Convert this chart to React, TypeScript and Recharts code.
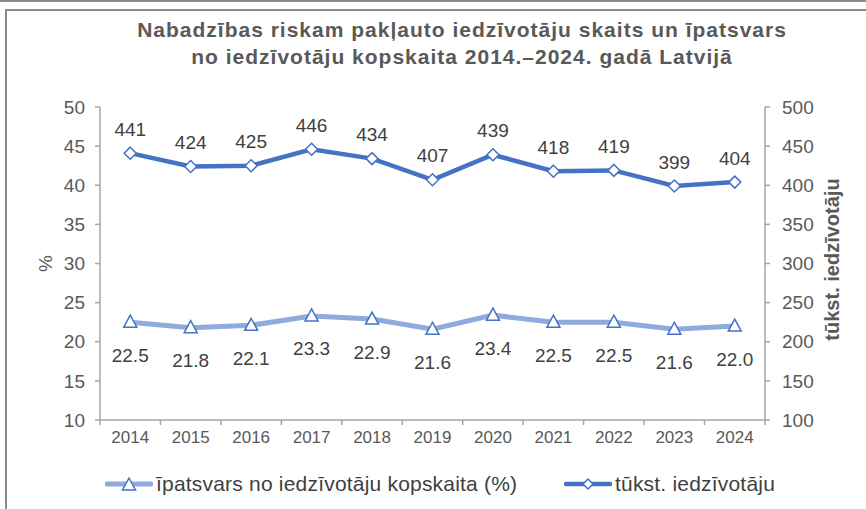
import * as React from "react";
import { LineChart, Line, XAxis, YAxis, Legend, LabelList } from "recharts";

// years shown on the x axis
const years = ["2014", "2015", "2016", "2017", "2018", "2019", "2020", "2021", "2022", "2023", "2024"];
// share of population at risk of poverty (%)
const sharePct = [22.5, 21.8, 22.1, 23.3, 22.9, 21.6, 23.4, 22.5, 22.5, 21.6, 22.0];
// number of people, thousands
const thousands = [441, 424, 425, 446, 434, 407, 439, 418, 419, 399, 404];

const leftTicks = [10, 15, 20, 25, 30, 35, 40, 45, 50];
const rightTicks = [100, 150, 200, 250, 300, 350, 400, 450, 500];

const shareName = "īpatsvars no iedzīvotāju kopskaita (%)";
const countName = "tūkst. iedzīvotāju";

const data = years.map((y, i) => ({ i, year: y, share: sharePct[i], count: thousands[i] }));
// category index ticks plus the half steps between them (Excel puts tick marks between categories)
const xTicks: number[] = [];
for (let k = -0.5; k <= years.length - 0.5; k += 0.5) xTicks.push(k);

const FONT = "'Liberation Sans', Arial, sans-serif";
const DARK = "#3f3f3f";
const GREY = "#595959";
const AXIS = "#a6a6a6";
const BLUE = "#4472C4";
const LIGHT = "#8FAADC";

const diamond = (cx: number, cy: number, r = 6) =>
  `M${cx},${cy - r} L${cx + r},${cy} L${cx},${cy + r} L${cx - r},${cy} Z`;
const triangle = (cx: number, cy: number) =>
  `M${cx},${cy - 7} L${cx + 6.5},${cy + 5} L${cx - 6.5},${cy + 5} Z`;

const DiamondDot = (p: any) => {
  if (p.cx == null) return <g key={p.index} />;
  return <path key={p.index} d={diamond(p.cx, p.cy)} fill="#fff" stroke={BLUE} strokeWidth={1.5} />;
};
const TriangleDot = (p: any) => {
  if (p.cx == null) return <g key={p.index} />;
  return <path key={p.index} d={triangle(p.cx, p.cy)} fill="#fff" stroke={BLUE} strokeWidth={1.5} />;
};

const XTick = (p: any) => {
  const v = p.payload.value;
  if (Number.isInteger(v)) {
    return (
      <text x={p.x} y={p.y + 17} textAnchor="middle" dominantBaseline="central" fill={GREY} fontSize={17} fontFamily={FONT}>
        {years[v]}
      </text>
    );
  }
  return <line x1={p.x} x2={p.x} y1={p.y} y2={p.y + 5} stroke={AXIS} strokeWidth={1.5} />;
};

const TopLabel = (p: any) => (
  <text x={p.x} y={p.y - 24} textAnchor="middle" dominantBaseline="central" fill={DARK} fontSize={19} fontFamily={FONT}>
    {p.value}
  </text>
);
const BottomLabel = (p: any) => (
  <text x={p.x} y={p.y + 33} textAnchor="middle" dominantBaseline="central" fill={DARK} fontSize={19} fontFamily={FONT}>
    {Number(p.value).toFixed(1)}
  </text>
);

const LegendBox = () => (
  <div style={{ position: "relative", width: 866, height: 26, fontFamily: FONT, fontSize: 21, letterSpacing: 0.2, color: DARK }}>
    <div style={{ position: "absolute", left: 105, top: 0, display: "flex", alignItems: "center", height: 26 }}>
      <svg width={48} height={26}>
        <line x1={2} x2={46} y1={13} y2={13} stroke={LIGHT} strokeWidth={5} strokeLinecap="round" />
        <path d={triangle(24, 14)} fill="#fff" stroke={BLUE} strokeWidth={1.5} />
      </svg>
      <span style={{ marginLeft: 3 }}>{shareName}</span>
    </div>
    <div style={{ position: "absolute", left: 564, top: 0, display: "flex", alignItems: "center", height: 26 }}>
      <svg width={48} height={26}>
        <line x1={2} x2={46} y1={13} y2={13} stroke={BLUE} strokeWidth={4.5} strokeLinecap="round" />
        <path d={diamond(24, 13, 5)} fill="#fff" stroke={BLUE} strokeWidth={1.5} />
      </svg>
      <span style={{ marginLeft: 3 }}>{countName}</span>
    </div>
  </div>
);

export default function App() {
  return (
    <div style={{ position: "relative", width: 866, height: 509, background: "#fff", fontFamily: FONT }}>
      <style>{"body{margin:0}"}</style>
      {/* frame lines of the cropped screenshot */}
      <div style={{ position: "absolute", left: 0, top: 0, width: 866, height: 2, background: "#8c8c8c" }} />
      <div style={{ position: "absolute", left: 5, top: 9, width: 861, height: 2, background: "#8c8c8c" }} />
      <div style={{ position: "absolute", left: 5, top: 9, width: 2, height: 500, background: "#8c8c8c" }} />
      <div style={{ position: "absolute", left: 0, top: 16, width: 924, textAlign: "center", fontWeight: "bold", fontSize: 21, letterSpacing: 1, color: GREY, lineHeight: "27px" }}>
        Nabadzības riskam pakļauto iedzīvotāju skaits un īpatsvars
        <br />
        no iedzīvotāju kopskaita 2014.–2024. gadā Latvijā
      </div>
      <div style={{ position: "absolute", left: 0, top: 0 }}>
        <LineChart width={866} height={509} data={data} margin={{ top: 107, right: 41, left: 30, bottom: 33 }}>
          <XAxis
            xAxisId="x"
            dataKey="i"
            type="number"
            domain={[-0.5, years.length - 0.5]}
            ticks={xTicks}
            interval={0}
            allowDataOverflow
            tick={<XTick />}
            tickLine={false}
            tickSize={0}
            tickMargin={0}
            height={30}
            axisLine={{ stroke: AXIS, strokeWidth: 1.5 }}
          />
          <YAxis
            yAxisId="l"
            domain={[10, 50]}
            ticks={leftTicks}
            interval={0}
            allowDataOverflow
            width={70}
            tickSize={5}
            tickMargin={10}
            tick={{ fill: GREY, fontSize: 19, fontFamily: FONT }}
            tickLine={{ stroke: AXIS, strokeWidth: 1.5 }}
            axisLine={{ stroke: AXIS, strokeWidth: 1.5 }}
            label={({ viewBox }: any) => (
              <text x={45} y={viewBox.y + viewBox.height / 2} textAnchor="middle" dominantBaseline="central"
                transform={`rotate(-90 45 ${viewBox.y + viewBox.height / 2})`} fill={GREY} fontSize={19} fontFamily={FONT}>
                %
              </text>
            )}
          />
          <YAxis
            yAxisId="r"
            orientation="right"
            domain={[100, 500]}
            ticks={rightTicks}
            interval={0}
            allowDataOverflow
            width={60}
            tickSize={5}
            tickMargin={12}
            tick={{ fill: GREY, fontSize: 19, fontFamily: FONT, textAnchor: "start" }}
            tickLine={{ stroke: AXIS, strokeWidth: 1.5 }}
            axisLine={{ stroke: AXIS, strokeWidth: 1.5 }}
            label={({ viewBox }: any) => (
              <text x={832} y={viewBox.y + viewBox.height / 2 - 4} textAnchor="middle" dominantBaseline="central"
                transform={`rotate(-90 832 ${viewBox.y + viewBox.height / 2 - 4})`} fill={GREY} fontSize={20} fontWeight="bold" fontFamily={FONT}>
                {countName}
              </text>
            )}
          />
          <Legend verticalAlign="bottom" content={<LegendBox />} wrapperStyle={{ left: 0, top: 471, bottom: "auto", width: 866 }} />
          <Line
            xAxisId="x"
            yAxisId="l"
            dataKey="share"
            name={shareName}
            stroke={LIGHT}
            strokeWidth={5}
            dot={TriangleDot}
            activeDot={false}
            isAnimationActive={false}
          >
            <LabelList dataKey="share" content={BottomLabel} />
          </Line>
          <Line
            xAxisId="x"
            yAxisId="r"
            dataKey="count"
            name={countName}
            stroke={BLUE}
            strokeWidth={4.5}
            dot={DiamondDot}
            activeDot={false}
            isAnimationActive={false}
          >
            <LabelList dataKey="count" content={TopLabel} />
          </Line>
        </LineChart>
      </div>
    </div>
  );
}
